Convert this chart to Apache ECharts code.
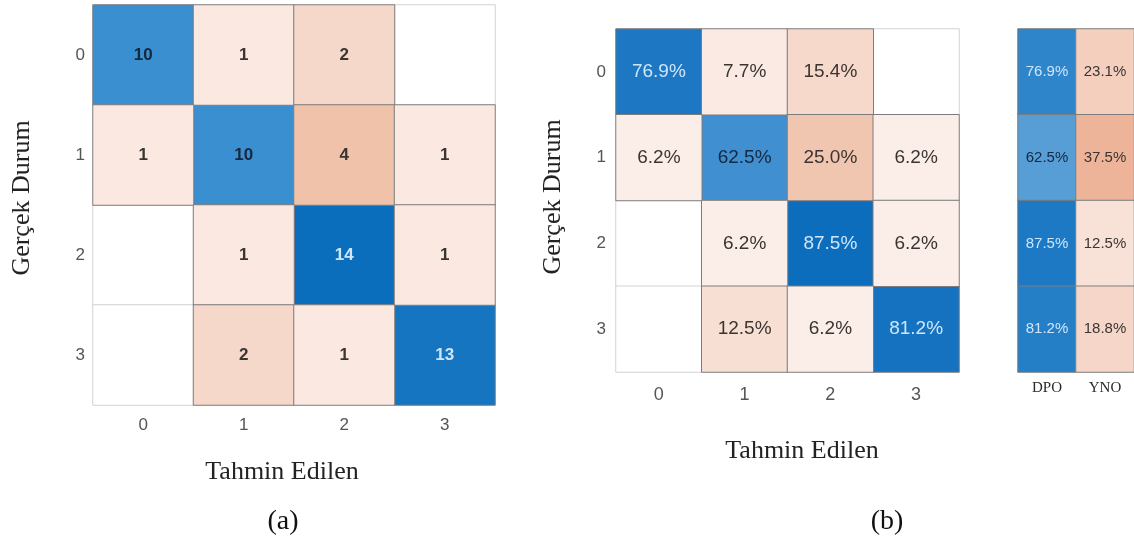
<!DOCTYPE html>
<html>
<head>
<meta charset="utf-8">
<script src="https://cdn.jsdelivr.net/npm/echarts@6/dist/echarts.min.js"></script>
<style>
  html, body { margin: 0; padding: 0; background: #ffffff; }
  #chart { width: 1134px; height: 543px; }
</style>
</head>
<body>
<div id="chart"></div>
<script>
// Class labels shared by both confusion matrices
const classLabels = ['0', '1', '2', '3'];
// (a) raw counts: rows = true class, columns = predicted class
const countMatrix = [
  [10, 1, 2, 0],
  [1, 10, 4, 1],
  [0, 1, 14, 1],
  [0, 2, 1, 13]
];
// (b) row-normalised percentages
const percentMatrix = [
  [76.9, 7.7, 15.4, 0],
  [6.2, 62.5, 25.0, 6.2],
  [0, 6.2, 87.5, 6.2],
  [0, 12.5, 6.2, 81.2]
];
// Row summary: correct (DPO) / incorrect (YNO) share per true class
const summaryLabels = ['DPO', 'YNO'];
const summaryDPO = [76.9, 62.5, 87.5, 81.2];
const summaryYNO = [23.1, 37.5, 12.5, 18.8];

const SANS = 'Liberation Sans, Arial, sans-serif';
const SERIF = 'Liberation Serif, Times New Roman, serif';
const LIGHT_TEXT = '#cfe6fa';
const NAVY_TEXT = '#15283d';
const GRAY_TEXT = '#3a3532';

// Build heatmap items; zero cells first so coloured cell borders sit on top
function cellItems(matrix, pick, maxVal, blue) {
  const zeros = [], rest = [];
  matrix.forEach((row, r) => row.forEach((v, c) => {
    if (!pick(r, c)) return;
    const item = { value: [c, r, v] };
    if (v === 0) {
      item.itemStyle = { borderColor: '#d2d2d2' };
      zeros.push(item);
    } else {
      item.label = { color: blue ? (v / maxVal >= 0.75 ? LIGHT_TEXT : NAVY_TEXT) : GRAY_TEXT };
      rest.push(item);
    }
  }));
  return zeros.concat(rest);
}

const countFmt = p => (p.value[2] === 0 ? '' : String(p.value[2]));
const pctFmt = p => (p.value[2] === 0 ? '' : p.value[2].toFixed(1) + '%');

function heat(name, gridIdx, data, fmt, fontSize, weight) {
  return {
    name: name,
    type: 'heatmap',
    xAxisIndex: gridIdx,
    yAxisIndex: gridIdx,
    data: data,
    label: { show: true, formatter: fmt, fontFamily: SANS, fontSize: fontSize, fontWeight: weight },
    itemStyle: { borderColor: '#7c7c7c', borderWidth: 1 },
    emphasis: { disabled: true }
  };
}

const summaryItems = (vals, col, blue) => vals.map((v, r) => ({
  value: [col, r, v],
  label: { color: blue ? (v / 100 >= 0.75 ? LIGHT_TEXT : NAVY_TEXT) : GRAY_TEXT }
}));

function catX(data, idx, margin, font, size, color) {
  return {
    type: 'category', gridIndex: idx, data: data, position: 'bottom',
    axisLine: { show: false }, axisTick: { show: false }, splitLine: { show: false },
    axisLabel: { margin: margin, fontFamily: font, fontSize: size, color: color }
  };
}
function catY(data, idx, show, margin) {
  return {
    type: 'category', gridIndex: idx, data: data, inverse: true,
    axisLine: { show: false }, axisTick: { show: false }, splitLine: { show: false },
    axisLabel: { show: show, margin: margin, fontFamily: SANS, fontSize: 17, color: '#555555' }
  };
}

const chart = echarts.init(document.getElementById('chart'), null, { renderer: 'canvas' });

chart.setOption({
  animation: false,
  backgroundColor: '#ffffff',
  grid: [
    { left: 93, top: 5, width: 402, height: 400 },
    { left: 616, top: 29, width: 343, height: 343 },
    { left: 1018, top: 29, width: 120, height: 343 }
  ],
  xAxis: [
    catX(classLabels, 0, 12, SANS, 17, '#555555'),
    catX(classLabels, 1, 14, SANS, 18, '#555555'),
    catX(summaryLabels, 2, 9, SERIF, 15, '#2a2a2a')
  ],
  yAxis: [
    catY(classLabels, 0, true, 8),
    catY(classLabels, 1, true, 10),
    catY(classLabels, 2, false, 8)
  ],
  visualMap: [
    { show: false, seriesIndex: 0, dimension: 2, min: 8, max: 14,
      inRange: { color: ['#57a0d8', '#3a8fd0', '#1f7bc5', '#0a6ebd'] } },
    { show: false, seriesIndex: 1, dimension: 2, min: 0, max: 4,
      inRange: { color: ['#ffffff', '#fbe8e0', '#f5d8ca', '#f2cdb9', '#f0c2aa'] } },
    { show: false, seriesIndex: 2, dimension: 2, min: 60, max: 90,
      inRange: { color: ['#4794d2', '#2b81c8', '#1773c0', '#0a6bbc'] } },
    { show: false, seriesIndex: 3, dimension: 2, min: 0, max: 30,
      inRange: { color: ['#ffffff', '#f9e4da', '#f3d0bf', '#eebba1'] } },
    { show: false, seriesIndex: 4, dimension: 2, min: 60, max: 90,
      inRange: { color: ['#5fa3d9', '#3f90d0', '#2780c8', '#1a76c3'] } },
    { show: false, seriesIndex: 5, dimension: 2, min: 10, max: 40,
      inRange: { color: ['#f9e6dd', '#f5d4c5', '#f1c4ae', '#edae92'] } }
  ],
  series: [
    heat('countsDiag', 0, cellItems(countMatrix, (r, c) => r === c, 14, true), countFmt, 17, 'bold'),
    heat('countsOff', 0, cellItems(countMatrix, (r, c) => r !== c, 14, false), countFmt, 17, 'bold'),
    heat('pctDiag', 1, cellItems(percentMatrix, (r, c) => r === c, 100, true), pctFmt, 19, 'normal'),
    heat('pctOff', 1, cellItems(percentMatrix, (r, c) => r !== c, 100, false), pctFmt, 19, 'normal'),
    heat('summaryDPO', 2, summaryItems(summaryDPO, 0, true), pctFmt, 15, 'normal'),
    heat('summaryYNO', 2, summaryItems(summaryYNO, 1, false), pctFmt, 15, 'normal')
  ],
  graphic: [
    { type: 'text', x: 282, y: 472, style: { text: 'Tahmin Edilen', font: '26px ' + SERIF, fill: '#222', textAlign: 'center', textVerticalAlign: 'middle' } },
    { type: 'text', x: 802, y: 451, style: { text: 'Tahmin Edilen', font: '26px ' + SERIF, fill: '#222', textAlign: 'center', textVerticalAlign: 'middle' } },
    { type: 'text', x: 22, y: 198, rotation: Math.PI / 2, style: { text: 'Gerçek Durum', font: '26px ' + SERIF, fill: '#222', textAlign: 'center', textVerticalAlign: 'middle' } },
    { type: 'text', x: 553, y: 197, rotation: Math.PI / 2, style: { text: 'Gerçek Durum', font: '26px ' + SERIF, fill: '#222', textAlign: 'center', textVerticalAlign: 'middle' } },
    { type: 'text', x: 283, y: 522, style: { text: '(a)', font: '28px ' + SERIF, fill: '#111', textAlign: 'center', textVerticalAlign: 'middle' } },
    { type: 'text', x: 887, y: 522, style: { text: '(b)', font: '28px ' + SERIF, fill: '#111', textAlign: 'center', textVerticalAlign: 'middle' } }
  ]
});
</script>
</body>
</html>
